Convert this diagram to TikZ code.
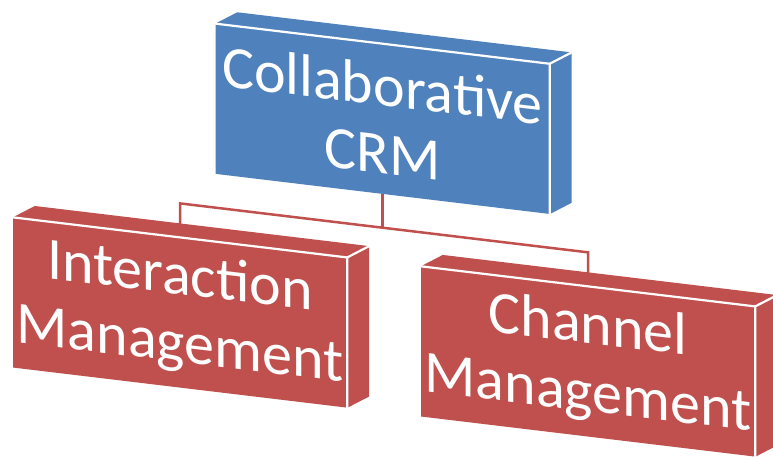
\documentclass[tikz,border=0pt]{standalone}
\usepackage{fontspec}
\setmainfont{Carlito}
\usepackage{tikz}
\usetikzlibrary{calc}
\definecolor{crmblue}{HTML}{4F81BD}
\definecolor{crmred}{HTML}{C0504D}
% depth of the slabs
\newcommand{\dx}{22}
\newcommand{\dy}{14}
% top and right faces of a slab, drawn after its front node
\newcommand{\slabsides}[2]{%
  \fill[#2] (#1.north west) -- ($(#1.north west)+(\dx,\dy)$) -- ($(#1.north east)+(\dx,\dy)$)
    -- ($(#1.south east)+(\dx,\dy)$) -- (#1.south east) -- (#1.north east) -- cycle;
  \draw[edge] (#1.north west) -- (#1.north east) -- (#1.south east);
  \draw[edge] (#1.north east) -- ($(#1.north east)+(\dx,\dy)$);
}

\begin{document}
\begin{tikzpicture}[
x=1pt,y=1pt,
slab/.style={fill=#1,text=white,transform shape,align=center,inner sep=0pt,
  minimum width=334pt,minimum height=150pt,font=\fontsize{60}{68}\selectfont},
edge/.style={draw=white,line width=2.2pt,line join=round},
link/.style={draw=crmred,line width=2.5pt}
]
\useasboundingbox (0,0) rectangle (773,457);
\begin{scope}[yslant=-0.12]
\node[slab=crmblue] (crm) at (382.5,384) {Collaborative\\CRM};
\node[slab=crmred] (inter) at (180,166) {Interaction\\Management};
\node[slab=crmred] (chan) at (588,166) {Channel\\Management};
% connectors go under the top faces
\draw[link] (crm.south) -- ++(0,-34);
\draw[link] (inter.north) -- ($(inter.north)+(0,34)$) -- ($(chan.north)+(0,34)$) -- (chan.north);
\slabsides{crm}{crmblue}
\slabsides{inter}{crmred}
\slabsides{chan}{crmred}
\end{scope}
\end{tikzpicture}
\end{document}
